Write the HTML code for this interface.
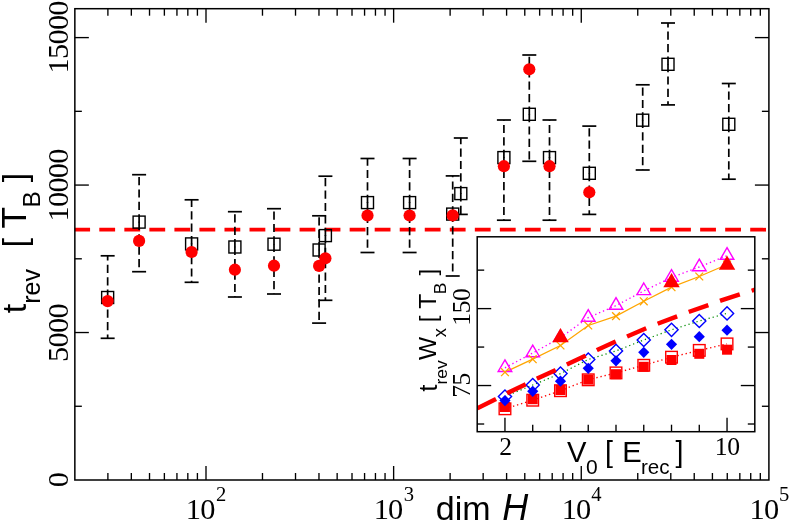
<!DOCTYPE html>
<html><head><meta charset="utf-8"><title>chart</title>
<style>html,body{margin:0;padding:0;background:#fff;overflow:hidden}svg{display:block;will-change:transform}</style>
</head><body>
<svg width="789" height="523" viewBox="0 0 789 523">
<rect x="0" y="0" width="789" height="523" fill="#fff"/>
<line x1="74.85" y1="229.7" x2="768.9" y2="229.7" stroke="#ff0000" stroke-width="3.7" stroke-dasharray="15.8 9.235" stroke-dashoffset="0.58"/>
<g stroke="#000" stroke-width="1.7" fill="none">
<line x1="107.65" y1="297.8" x2="107.65" y2="255.8" stroke-dasharray="8.2 4.2"/>
<line x1="107.65" y1="297.2" x2="107.65" y2="338.3" stroke-dasharray="8.2 4.2"/>
<line x1="100.65" y1="255.8" x2="114.65" y2="255.8"/>
<line x1="100.65" y1="338.3" x2="114.65" y2="338.3"/>
<line x1="139.1" y1="222.4" x2="139.1" y2="174.7" stroke-dasharray="8.2 4.2"/>
<line x1="139.1" y1="221.79999999999998" x2="139.1" y2="271.7" stroke-dasharray="8.2 4.2"/>
<line x1="132.1" y1="174.7" x2="146.1" y2="174.7"/>
<line x1="132.1" y1="271.7" x2="146.1" y2="271.7"/>
<line x1="191.6" y1="244.20000000000002" x2="191.6" y2="199.8" stroke-dasharray="8.2 4.2"/>
<line x1="191.6" y1="243.6" x2="191.6" y2="282.3" stroke-dasharray="8.2 4.2"/>
<line x1="184.6" y1="199.8" x2="198.6" y2="199.8"/>
<line x1="184.6" y1="282.3" x2="198.6" y2="282.3"/>
<line x1="234.9" y1="247.3" x2="234.9" y2="211.7" stroke-dasharray="8.2 4.2"/>
<line x1="234.9" y1="246.7" x2="234.9" y2="297.0" stroke-dasharray="8.2 4.2"/>
<line x1="227.9" y1="211.7" x2="241.9" y2="211.7"/>
<line x1="227.9" y1="297.0" x2="241.9" y2="297.0"/>
<line x1="274.0" y1="244.5" x2="274.0" y2="208.7" stroke-dasharray="8.2 4.2"/>
<line x1="274.0" y1="243.89999999999998" x2="274.0" y2="294.0" stroke-dasharray="8.2 4.2"/>
<line x1="267.0" y1="208.7" x2="281.0" y2="208.7"/>
<line x1="267.0" y1="294.0" x2="281.0" y2="294.0"/>
<line x1="319.1" y1="250.3" x2="319.1" y2="215.8" stroke-dasharray="8.2 4.2"/>
<line x1="319.1" y1="249.7" x2="319.1" y2="323.1" stroke-dasharray="8.2 4.2"/>
<line x1="312.1" y1="215.8" x2="326.1" y2="215.8"/>
<line x1="312.1" y1="323.1" x2="326.1" y2="323.1"/>
<line x1="325.4" y1="235.9" x2="325.4" y2="176.2" stroke-dasharray="8.2 4.2"/>
<line x1="325.4" y1="235.29999999999998" x2="325.4" y2="300.3" stroke-dasharray="8.2 4.2"/>
<line x1="318.4" y1="176.2" x2="332.4" y2="176.2"/>
<line x1="318.4" y1="300.3" x2="332.4" y2="300.3"/>
<line x1="367.5" y1="202.9" x2="367.5" y2="158.5" stroke-dasharray="8.2 4.2"/>
<line x1="367.5" y1="202.29999999999998" x2="367.5" y2="252.5" stroke-dasharray="8.2 4.2"/>
<line x1="360.5" y1="158.5" x2="374.5" y2="158.5"/>
<line x1="360.5" y1="252.5" x2="374.5" y2="252.5"/>
<line x1="409.6" y1="202.9" x2="409.6" y2="158.5" stroke-dasharray="8.2 4.2"/>
<line x1="409.6" y1="202.29999999999998" x2="409.6" y2="252.5" stroke-dasharray="8.2 4.2"/>
<line x1="402.6" y1="158.5" x2="416.6" y2="158.5"/>
<line x1="402.6" y1="252.5" x2="416.6" y2="252.5"/>
<line x1="452.7" y1="214.4" x2="452.7" y2="175.9" stroke-dasharray="8.2 4.2"/>
<line x1="452.7" y1="213.79999999999998" x2="452.7" y2="276.0" stroke-dasharray="8.2 4.2"/>
<line x1="445.7" y1="175.9" x2="459.7" y2="175.9"/>
<line x1="445.7" y1="276.0" x2="459.7" y2="276.0"/>
<line x1="460.8" y1="193.9" x2="460.8" y2="138.0" stroke-dasharray="8.2 4.2"/>
<line x1="460.8" y1="193.29999999999998" x2="460.8" y2="214.4" stroke-dasharray="8.2 4.2"/>
<line x1="453.8" y1="138.0" x2="467.8" y2="138.0"/>
<line x1="453.8" y1="214.4" x2="467.8" y2="214.4"/>
<line x1="503.9" y1="157.9" x2="503.9" y2="120.0" stroke-dasharray="8.2 4.2"/>
<line x1="503.9" y1="157.29999999999998" x2="503.9" y2="220.2" stroke-dasharray="8.2 4.2"/>
<line x1="496.9" y1="120.0" x2="510.9" y2="120.0"/>
<line x1="496.9" y1="220.2" x2="510.9" y2="220.2"/>
<line x1="529.3" y1="114.6" x2="529.3" y2="55.0" stroke-dasharray="8.2 4.2"/>
<line x1="529.3" y1="114.0" x2="529.3" y2="161.3" stroke-dasharray="8.2 4.2"/>
<line x1="522.3" y1="55.0" x2="536.3" y2="55.0"/>
<line x1="522.3" y1="161.3" x2="536.3" y2="161.3"/>
<line x1="549.5" y1="157.9" x2="549.5" y2="120.0" stroke-dasharray="8.2 4.2"/>
<line x1="549.5" y1="157.29999999999998" x2="549.5" y2="220.2" stroke-dasharray="8.2 4.2"/>
<line x1="542.5" y1="120.0" x2="556.5" y2="120.0"/>
<line x1="542.5" y1="220.2" x2="556.5" y2="220.2"/>
<line x1="589.3" y1="173.60000000000002" x2="589.3" y2="126.1" stroke-dasharray="8.2 4.2"/>
<line x1="589.3" y1="173.0" x2="589.3" y2="214.4" stroke-dasharray="8.2 4.2"/>
<line x1="582.3" y1="126.1" x2="596.3" y2="126.1"/>
<line x1="582.3" y1="214.4" x2="596.3" y2="214.4"/>
<line x1="642.7" y1="120.5" x2="642.7" y2="84.8" stroke-dasharray="8.2 4.2"/>
<line x1="642.7" y1="119.9" x2="642.7" y2="170.0" stroke-dasharray="8.2 4.2"/>
<line x1="635.7" y1="84.8" x2="649.7" y2="84.8"/>
<line x1="635.7" y1="170.0" x2="649.7" y2="170.0"/>
<line x1="668.0" y1="64.6" x2="668.0" y2="23.0" stroke-dasharray="8.2 4.2"/>
<line x1="668.0" y1="64.0" x2="668.0" y2="104.9" stroke-dasharray="8.2 4.2"/>
<line x1="661.0" y1="23.0" x2="675.0" y2="23.0"/>
<line x1="661.0" y1="104.9" x2="675.0" y2="104.9"/>
<line x1="728.8" y1="124.6" x2="728.8" y2="83.5" stroke-dasharray="8.2 4.2"/>
<line x1="728.8" y1="124.0" x2="728.8" y2="179.2" stroke-dasharray="8.2 4.2"/>
<line x1="721.8" y1="83.5" x2="735.8" y2="83.5"/>
<line x1="721.8" y1="179.2" x2="735.8" y2="179.2"/>
</g>
<g stroke="#000" stroke-width="1.4" fill="none">
<rect x="101.65" y="291.5" width="12.0" height="12.0"/>
<rect x="133.1" y="216.1" width="12.0" height="12.0"/>
<rect x="185.6" y="237.9" width="12.0" height="12.0"/>
<rect x="228.9" y="241.0" width="12.0" height="12.0"/>
<rect x="268.0" y="238.2" width="12.0" height="12.0"/>
<rect x="313.1" y="244.0" width="12.0" height="12.0"/>
<rect x="319.4" y="229.6" width="12.0" height="12.0"/>
<rect x="361.5" y="196.6" width="12.0" height="12.0"/>
<rect x="403.6" y="196.6" width="12.0" height="12.0"/>
<rect x="446.7" y="208.1" width="12.0" height="12.0"/>
<rect x="454.8" y="187.6" width="12.0" height="12.0"/>
<rect x="497.9" y="151.6" width="12.0" height="12.0"/>
<rect x="523.3" y="108.3" width="12.0" height="12.0"/>
<rect x="543.5" y="151.6" width="12.0" height="12.0"/>
<rect x="583.3" y="167.3" width="12.0" height="12.0"/>
<rect x="636.7" y="114.2" width="12.0" height="12.0"/>
<rect x="662.0" y="58.3" width="12.0" height="12.0"/>
<rect x="722.8" y="118.3" width="12.0" height="12.0"/>
</g>
<g fill="#ff0000" stroke="none">
<circle cx="107.65" cy="301.1" r="6.1"/>
<circle cx="139.1" cy="240.9" r="6.1"/>
<circle cx="191.6" cy="252.0" r="6.1"/>
<circle cx="234.9" cy="269.7" r="6.1"/>
<circle cx="274.0" cy="265.7" r="6.1"/>
<circle cx="319.1" cy="265.9" r="6.1"/>
<circle cx="325.4" cy="258.3" r="6.1"/>
<circle cx="367.5" cy="215.5" r="6.1"/>
<circle cx="409.6" cy="215.5" r="6.1"/>
<circle cx="452.7" cy="215.4" r="6.1"/>
<circle cx="503.9" cy="166.2" r="6.1"/>
<circle cx="529.3" cy="69.3" r="6.1"/>
<circle cx="549.5" cy="166.2" r="6.1"/>
<circle cx="589.3" cy="192.3" r="6.1"/>
</g>
<g stroke="#000" stroke-width="1.5" fill="none" stroke-linecap="butt">
<rect x="74.85" y="8.7" width="694.05" height="471.3"/>
</g>
<g stroke="#000" stroke-width="1.35" fill="none" stroke-linecap="butt">
<line x1="74.85" y1="406.27" x2="81.85" y2="406.27"/>
<line x1="768.9" y1="406.27" x2="761.9" y2="406.27"/>
<line x1="74.85" y1="332.53" x2="88.85" y2="332.53"/>
<line x1="768.9" y1="332.53" x2="754.9" y2="332.53"/>
<line x1="74.85" y1="258.80" x2="81.85" y2="258.80"/>
<line x1="768.9" y1="258.80" x2="761.9" y2="258.80"/>
<line x1="74.85" y1="185.07" x2="88.85" y2="185.07"/>
<line x1="768.9" y1="185.07" x2="754.9" y2="185.07"/>
<line x1="74.85" y1="111.33" x2="81.85" y2="111.33"/>
<line x1="768.9" y1="111.33" x2="761.9" y2="111.33"/>
<line x1="74.85" y1="37.60" x2="88.85" y2="37.60"/>
<line x1="768.9" y1="37.60" x2="754.9" y2="37.60"/>
<line x1="107.89" y1="480.0" x2="107.89" y2="473.0"/>
<line x1="107.89" y1="8.7" x2="107.89" y2="15.7"/>
<line x1="131.33" y1="480.0" x2="131.33" y2="473.0"/>
<line x1="131.33" y1="8.7" x2="131.33" y2="15.7"/>
<line x1="149.52" y1="480.0" x2="149.52" y2="473.0"/>
<line x1="149.52" y1="8.7" x2="149.52" y2="15.7"/>
<line x1="164.37" y1="480.0" x2="164.37" y2="473.0"/>
<line x1="164.37" y1="8.7" x2="164.37" y2="15.7"/>
<line x1="176.94" y1="480.0" x2="176.94" y2="473.0"/>
<line x1="176.94" y1="8.7" x2="176.94" y2="15.7"/>
<line x1="187.82" y1="480.0" x2="187.82" y2="473.0"/>
<line x1="187.82" y1="8.7" x2="187.82" y2="15.7"/>
<line x1="197.41" y1="480.0" x2="197.41" y2="473.0"/>
<line x1="197.41" y1="8.7" x2="197.41" y2="15.7"/>
<line x1="206.00" y1="480.0" x2="206.00" y2="466.0"/>
<line x1="206.00" y1="8.7" x2="206.00" y2="22.7"/>
<line x1="262.48" y1="480.0" x2="262.48" y2="473.0"/>
<line x1="262.48" y1="8.7" x2="262.48" y2="15.7"/>
<line x1="295.52" y1="480.0" x2="295.52" y2="473.0"/>
<line x1="295.52" y1="8.7" x2="295.52" y2="15.7"/>
<line x1="318.97" y1="480.0" x2="318.97" y2="473.0"/>
<line x1="318.97" y1="8.7" x2="318.97" y2="15.7"/>
<line x1="337.15" y1="480.0" x2="337.15" y2="473.0"/>
<line x1="337.15" y1="8.7" x2="337.15" y2="15.7"/>
<line x1="352.01" y1="480.0" x2="352.01" y2="473.0"/>
<line x1="352.01" y1="8.7" x2="352.01" y2="15.7"/>
<line x1="364.57" y1="480.0" x2="364.57" y2="473.0"/>
<line x1="364.57" y1="8.7" x2="364.57" y2="15.7"/>
<line x1="375.45" y1="480.0" x2="375.45" y2="473.0"/>
<line x1="375.45" y1="8.7" x2="375.45" y2="15.7"/>
<line x1="385.05" y1="480.0" x2="385.05" y2="473.0"/>
<line x1="385.05" y1="8.7" x2="385.05" y2="15.7"/>
<line x1="393.63" y1="480.0" x2="393.63" y2="466.0"/>
<line x1="393.63" y1="8.7" x2="393.63" y2="22.7"/>
<line x1="450.12" y1="480.0" x2="450.12" y2="473.0"/>
<line x1="450.12" y1="8.7" x2="450.12" y2="15.7"/>
<line x1="483.16" y1="480.0" x2="483.16" y2="473.0"/>
<line x1="483.16" y1="8.7" x2="483.16" y2="15.7"/>
<line x1="506.60" y1="480.0" x2="506.60" y2="473.0"/>
<line x1="506.60" y1="8.7" x2="506.60" y2="15.7"/>
<line x1="524.78" y1="480.0" x2="524.78" y2="473.0"/>
<line x1="524.78" y1="8.7" x2="524.78" y2="15.7"/>
<line x1="539.64" y1="480.0" x2="539.64" y2="473.0"/>
<line x1="539.64" y1="8.7" x2="539.64" y2="15.7"/>
<line x1="552.20" y1="480.0" x2="552.20" y2="473.0"/>
<line x1="552.20" y1="8.7" x2="552.20" y2="15.7"/>
<line x1="563.08" y1="480.0" x2="563.08" y2="473.0"/>
<line x1="563.08" y1="8.7" x2="563.08" y2="15.7"/>
<line x1="572.68" y1="480.0" x2="572.68" y2="473.0"/>
<line x1="572.68" y1="8.7" x2="572.68" y2="15.7"/>
<line x1="581.27" y1="480.0" x2="581.27" y2="466.0"/>
<line x1="581.27" y1="8.7" x2="581.27" y2="22.7"/>
<line x1="637.75" y1="480.0" x2="637.75" y2="473.0"/>
<line x1="637.75" y1="8.7" x2="637.75" y2="15.7"/>
<line x1="670.79" y1="480.0" x2="670.79" y2="473.0"/>
<line x1="670.79" y1="8.7" x2="670.79" y2="15.7"/>
<line x1="694.23" y1="480.0" x2="694.23" y2="473.0"/>
<line x1="694.23" y1="8.7" x2="694.23" y2="15.7"/>
<line x1="712.42" y1="480.0" x2="712.42" y2="473.0"/>
<line x1="712.42" y1="8.7" x2="712.42" y2="15.7"/>
<line x1="727.27" y1="480.0" x2="727.27" y2="473.0"/>
<line x1="727.27" y1="8.7" x2="727.27" y2="15.7"/>
<line x1="739.84" y1="480.0" x2="739.84" y2="473.0"/>
<line x1="739.84" y1="8.7" x2="739.84" y2="15.7"/>
<line x1="750.72" y1="480.0" x2="750.72" y2="473.0"/>
<line x1="750.72" y1="8.7" x2="750.72" y2="15.7"/>
<line x1="760.31" y1="480.0" x2="760.31" y2="473.0"/>
<line x1="760.31" y1="8.7" x2="760.31" y2="15.7"/>
</g>
<g font-family='"Liberation Serif", serif' font-size="30.4" fill="#000" letter-spacing="-0.75">
<text transform="translate(67.7,480.10) rotate(-90)" text-anchor="middle">0</text>
<text transform="translate(67.7,333.03) rotate(-90)" text-anchor="middle">5000</text>
<text transform="translate(67.7,185.37) rotate(-90)" text-anchor="middle">10000</text>
<text transform="translate(67.7,37.30) rotate(-90)" text-anchor="middle">15000</text>
<text x="185.70" y="519.0">10</text>
<text x="216.10" y="500.8" font-size="20.6">2</text>
<text x="373.66" y="519.0">10</text>
<text x="403.73" y="500.8" font-size="20.6">3</text>
<text x="561.63" y="519.0">10</text>
<text x="591.37" y="500.8" font-size="20.6">4</text>
<text x="749.59" y="519.0">10</text>
<text x="779.00" y="500.8" font-size="20.6">5</text>
</g>
<g font-family='"Liberation Sans", sans-serif' fill="#000">
<text x="435.8" y="520.0" font-size="34">dim</text>
<text x="502.3" y="520.0" font-size="36" font-style="italic">H</text>
<text transform="translate(26.3,313.3) rotate(-90)" font-size="34">t</text>
<text transform="translate(40.1,303.8) rotate(-90)" font-size="25">rev</text>
<text transform="translate(26.0,247.4) rotate(-90)" font-size="34">[</text>
<text transform="translate(25.8,228.4) rotate(-90)" font-size="35.3">T</text>
<text transform="translate(40.2,207.6) rotate(-90)" font-size="24.6">B</text>
<text transform="translate(26.0,182.2) rotate(-90)" font-size="34">]</text>
</g>
<rect x="477.2" y="236.8" width="277.59999999999997" height="194.89999999999998" fill="#fff" stroke="none"/>
<defs><clipPath id="ic"><rect x="477.2" y="236.8" width="277.59999999999997" height="194.89999999999998"/></clipPath></defs>
<polyline points="504.96,408.80 532.72,400.20 560.48,390.70 588.24,379.80 616.00,372.90 643.76,365.30 671.52,357.20 699.28,350.40 727.04,343.90" stroke="#ff0000" stroke-width="1.35" stroke-dasharray="1.35 2.85" fill="none"/>
<polyline points="504.96,396.50 532.72,385.00 560.48,373.60 588.24,359.50 616.00,350.90 643.76,340.00 671.52,329.80 699.28,321.00 727.04,313.40" stroke="#008b00" stroke-width="1.25" stroke-dasharray="1.25 2.95" fill="none"/>
<g fill="none" stroke="#0000ff" stroke-width="1.4">
<path d="M504.96 389.90 L511.56 396.50 L504.96 403.10 L498.36 396.50 Z"/>
<path d="M532.72 378.40 L539.32 385.00 L532.72 391.60 L526.12 385.00 Z"/>
<path d="M560.48 367.00 L567.08 373.60 L560.48 380.20 L553.88 373.60 Z"/>
<path d="M588.24 352.90 L594.84 359.50 L588.24 366.10 L581.64 359.50 Z"/>
<path d="M616.00 344.30 L622.60 350.90 L616.00 357.50 L609.40 350.90 Z"/>
<path d="M643.76 333.40 L650.36 340.00 L643.76 346.60 L637.16 340.00 Z"/>
<path d="M671.52 323.20 L678.12 329.80 L671.52 336.40 L664.92 329.80 Z"/>
<path d="M699.28 314.40 L705.88 321.00 L699.28 327.60 L692.68 321.00 Z"/>
<path d="M727.04 306.80 L733.64 313.40 L727.04 320.00 L720.44 313.40 Z"/>
</g>
<path d="M477.2 408.3 L495.0 399.6 L507.1 393.2 L523.2 385.4 L537.2 378.6 L555.3 370.2 L566.4 364.6 L585.4 355.7 L597.1 349.9 L615.6 341.6 L627.1 336.4 L646.2 328.3 L658.2 323.5 L677.3 316.3 L689.3 311.7 L708.8 304.9 L720.6 300.6 L740.3 294.2 L752.4 290.5 L758.0 288.7" stroke="#ff0000" stroke-width="4.4" fill="none" stroke-dasharray="20.8 12.4" stroke-dashoffset="-0.2" clip-path="url(#ic)"/>
<polyline points="504.96,367.80 532.72,353.00 560.48,337.70 588.24,317.60 616.00,305.60 643.76,290.90 671.52,277.50 699.28,267.00 727.04,255.60" stroke="#ff00ff" stroke-width="1.35" stroke-dasharray="1.35 2.85" fill="none"/>
<polyline points="504.96,372.20 532.72,359.20 560.48,345.50 588.24,325.50 616.00,316.10 643.76,301.30 671.52,287.20 699.28,276.50 727.04,264.50" stroke="#ffa500" stroke-width="1.3" fill="none"/>
<g fill="#ff0000" stroke="none">
<rect x="499.96" y="402.00" width="10" height="10"/>
<rect x="527.72" y="394.20" width="10" height="10"/>
<rect x="555.48" y="385.00" width="10" height="10"/>
<rect x="583.24" y="374.60" width="10" height="10"/>
<rect x="611.00" y="369.20" width="10" height="10"/>
<rect x="638.76" y="361.80" width="10" height="10"/>
<rect x="666.52" y="355.00" width="10" height="10"/>
<rect x="694.28" y="348.80" width="10" height="10"/>
<rect x="722.04" y="344.70" width="10" height="10"/>
</g>
<g fill="none" stroke="#ff0000" stroke-width="1.4">
<rect x="499.16" y="403.00" width="11.6" height="11.6"/>
<rect x="526.92" y="394.40" width="11.6" height="11.6"/>
<rect x="554.68" y="384.90" width="11.6" height="11.6"/>
<rect x="582.44" y="374.00" width="11.6" height="11.6"/>
<rect x="610.20" y="367.10" width="11.6" height="11.6"/>
<rect x="637.96" y="359.50" width="11.6" height="11.6"/>
<rect x="665.72" y="351.40" width="11.6" height="11.6"/>
<rect x="693.48" y="344.60" width="11.6" height="11.6"/>
<rect x="721.24" y="338.10" width="11.6" height="11.6"/>
</g>
<g fill="#0000ff" stroke="none">
<path d="M504.96 395.00 L510.56 400.60 L504.96 406.20 L499.36 400.60 Z"/>
<path d="M532.72 385.70 L538.32 391.30 L532.72 396.90 L527.12 391.30 Z"/>
<path d="M560.48 375.60 L566.08 381.20 L560.48 386.80 L554.88 381.20 Z"/>
<path d="M588.24 362.70 L593.84 368.30 L588.24 373.90 L582.64 368.30 Z"/>
<path d="M616.00 355.20 L621.60 360.80 L616.00 366.40 L610.40 360.80 Z"/>
<path d="M643.76 346.70 L649.36 352.30 L643.76 357.90 L638.16 352.30 Z"/>
<path d="M671.52 338.70 L677.12 344.30 L671.52 349.90 L665.92 344.30 Z"/>
<path d="M699.28 331.10 L704.88 336.70 L699.28 342.30 L693.68 336.70 Z"/>
<path d="M727.04 324.60 L732.64 330.20 L727.04 335.80 L721.44 330.20 Z"/>
</g>
<g fill="none" stroke="#ff00ff" stroke-width="1.4" stroke-linejoin="miter">
<path d="M504.96 359.90 L511.76 371.50 L498.16 371.50 Z"/>
<path d="M532.72 345.10 L539.52 356.70 L525.92 356.70 Z"/>
<path d="M560.48 329.80 L567.28 341.40 L553.68 341.40 Z"/>
<path d="M588.24 309.70 L595.04 321.30 L581.44 321.30 Z"/>
<path d="M616.00 297.70 L622.80 309.30 L609.20 309.30 Z"/>
<path d="M643.76 283.00 L650.56 294.60 L636.96 294.60 Z"/>
<path d="M671.52 269.60 L678.32 281.20 L664.72 281.20 Z"/>
<path d="M699.28 259.10 L706.08 270.70 L692.48 270.70 Z"/>
<path d="M727.04 247.70 L733.84 259.30 L720.24 259.30 Z"/>
</g>
<g stroke="#ffa500" stroke-width="1.3" fill="none">
<path d="M501.06 368.30 L508.86 376.10 M501.06 376.10 L508.86 368.30"/>
<path d="M528.82 355.30 L536.62 363.10 M528.82 363.10 L536.62 355.30"/>
<path d="M556.58 341.60 L564.38 349.40 M556.58 349.40 L564.38 341.60"/>
<path d="M584.34 321.60 L592.14 329.40 M584.34 329.40 L592.14 321.60"/>
<path d="M612.10 312.20 L619.90 320.00 M612.10 320.00 L619.90 312.20"/>
<path d="M639.86 297.40 L647.66 305.20 M639.86 305.20 L647.66 297.40"/>
<path d="M667.62 283.30 L675.42 291.10 M667.62 291.10 L675.42 283.30"/>
<path d="M695.38 272.60 L703.18 280.40 M695.38 280.40 L703.18 272.60"/>
<path d="M723.14 260.60 L730.94 268.40 M723.14 268.40 L730.94 260.60"/>
</g>
<g fill="#ff0000" stroke="none">
<path d="M560.48 328.00 L568.68 342.20 L552.28 342.20 Z"/>
<path d="M671.52 273.00 L679.72 287.20 L663.32 287.20 Z"/>
<path d="M727.04 255.60 L735.24 269.80 L718.84 269.80 Z"/>
</g>
<g stroke="#000" stroke-width="1.5" fill="none">
<rect x="477.2" y="236.8" width="277.59999999999997" height="194.89999999999998"/>
</g>
<g stroke="#000" stroke-width="1.35" fill="none">
<line x1="477.2" y1="424.01" x2="484.2" y2="424.01"/>
<line x1="754.8" y1="424.01" x2="747.8" y2="424.01"/>
<line x1="477.2" y1="385.54" x2="491.2" y2="385.54"/>
<line x1="754.8" y1="385.54" x2="740.8" y2="385.54"/>
<line x1="477.2" y1="347.07" x2="484.2" y2="347.07"/>
<line x1="754.8" y1="347.07" x2="747.8" y2="347.07"/>
<line x1="477.2" y1="308.61" x2="491.2" y2="308.61"/>
<line x1="754.8" y1="308.61" x2="740.8" y2="308.61"/>
<line x1="477.2" y1="270.14" x2="484.2" y2="270.14"/>
<line x1="754.8" y1="270.14" x2="747.8" y2="270.14"/>
<line x1="504.96" y1="431.7" x2="504.96" y2="417.7"/>
<line x1="532.72" y1="431.7" x2="532.72" y2="424.7"/>
<line x1="560.48" y1="431.7" x2="560.48" y2="424.7"/>
<line x1="588.24" y1="431.7" x2="588.24" y2="424.7"/>
<line x1="616.00" y1="431.7" x2="616.00" y2="424.7"/>
<line x1="643.76" y1="431.7" x2="643.76" y2="424.7"/>
<line x1="671.52" y1="431.7" x2="671.52" y2="424.7"/>
<line x1="699.28" y1="431.7" x2="699.28" y2="424.7"/>
<line x1="727.04" y1="431.7" x2="727.04" y2="417.7"/>
</g>
<g font-family='"Liberation Serif", serif' font-size="25.6" fill="#000" letter-spacing="-0.5">
<text transform="translate(470.2,307.2) rotate(-90)" text-anchor="middle">150</text>
<text transform="translate(470.2,385.5) rotate(-90)" text-anchor="middle">75</text>
<text x="505.46" y="455" text-anchor="middle">2</text>
<text x="727.14" y="455" text-anchor="middle">10</text>
</g>
<g font-family='"Liberation Sans", sans-serif' fill="#000">
<text transform="translate(436.90000000000003,391.8) rotate(-90)" font-size="26">t</text>
<text transform="translate(446.6,384.5) rotate(-90)" font-size="17.4">rev</text>
<text transform="translate(436.3,359.9) rotate(-90)" font-size="24.5">W</text>
<text transform="translate(446.20000000000005,337.3) rotate(-90)" font-size="18.5">x</text>
<text transform="translate(436.3,322.3) rotate(-90)" font-size="24.5">[</text>
<text transform="translate(436.3,308.7) rotate(-90)" font-size="24.5">T</text>
<text transform="translate(446.1,294.2) rotate(-90)" font-size="17.4">B</text>
<text transform="translate(436.3,275.6) rotate(-90)" font-size="24.5">]</text>
<text x="567.0" y="461.9" font-size="29.2">V</text>
<text x="585.9" y="473.7" font-size="21">0</text>
<text x="604.9" y="461.59999999999997" font-size="28.6">[</text>
<text x="622.3" y="461.9" font-size="29.2">E</text>
<text x="641.0" y="473.7" font-size="20.6">rec</text>
<text x="675.5" y="461.59999999999997" font-size="28.6">]</text>
</g>
</svg>
</body></html>
